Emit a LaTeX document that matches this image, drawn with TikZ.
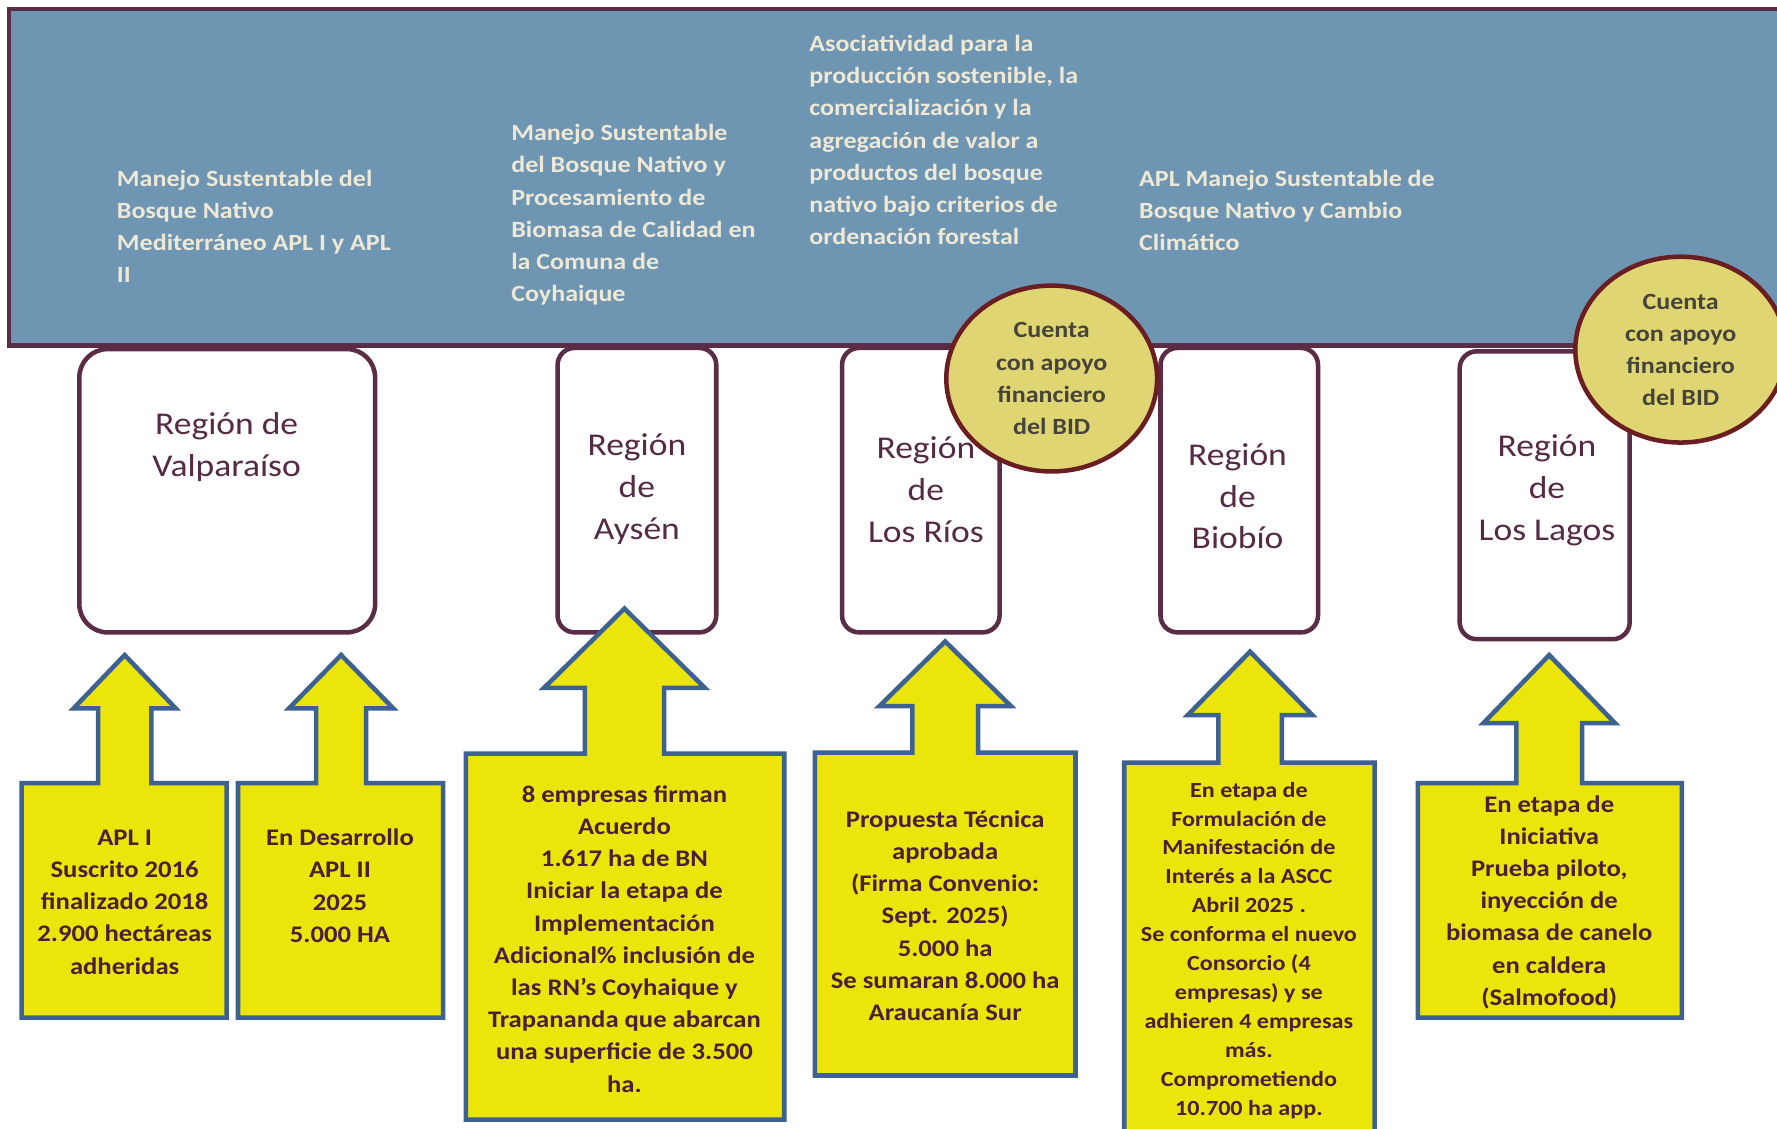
\documentclass[tikz,border=0pt]{standalone}
\usepackage{fontspec}
\setmainfont{Carlito}[FakeStretch=1.12]
\usetikzlibrary{shapes.geometric}
\definecolor{bannerfill}{HTML}{6E96B3}
\definecolor{maroonline}{HTML}{5B2C45}
\definecolor{bannertext}{HTML}{EEE8D5}
\definecolor{regtext}{HTML}{552A44}
\definecolor{bidfill}{HTML}{DFD673}
\definecolor{bidline}{HTML}{6A1E22}
\definecolor{bidtext}{HTML}{46443A}
\definecolor{callfill}{HTML}{EBE50A}
\definecolor{callline}{HTML}{3D6190}
\definecolor{calltext}{HTML}{4A1F3A}
\newcommand\callout[9]{%
  \draw[calloutshape] (#2,#5) -- (#2,#4) -- ({#1-#6},#4) -- ({#1-#6},#8) -- ({#1-#7},#8)
    -- (#1,#9) -- ({#1+#7},#8) -- ({#1+#6},#8) -- ({#1+#6},#4) -- (#3,#4) -- (#3,#5) -- cycle;}
\begin{document}
\begin{tikzpicture}[x=1pt,y=-1pt,
  bannertxt/.style={anchor=west, align=left, text=bannertext, inner sep=0pt,
    font=\fontsize{20.5}{28.3}\selectfont\bfseries},
  regionbox/.style={draw=maroonline, line width=4pt, fill=white, rounded corners=15pt},
  regtxt/.style={align=center, text=regtext, inner sep=0pt, font=\fontsize{28}{36.8}\selectfont},
  bid/.style={ellipse, draw=bidline, fill=bidfill, line width=4pt, minimum width=186pt,
    minimum height=164pt, inner sep=0pt, align=center, text=bidtext,
    font=\fontsize{20.5}{28.3}\selectfont\bfseries},
  calloutshape/.style={draw=callline, fill=callfill, line width=4pt, line join=miter},
  calltxt/.style={align=center, text=calltext, inner sep=0pt, font=\fontsize{21}{28.4}\selectfont\bfseries},
  calltxtsmall/.style={align=center, text=calltext, inner sep=0pt, font=\fontsize{19}{25.5}\selectfont\bfseries}]
\useasboundingbox (0,0) rectangle (1568,996);
\clip (0,0) rectangle (1568,996);
\fill[white] (0,0) rectangle (1568,996);
% banner
\draw[line width=4pt, draw=maroonline, fill=bannerfill] (8,8) rectangle (1600,305);
\node[bannertxt] (t1) at (103,200) {Manejo Sustentable del\\Bosque Nativo\\Mediterráneo APL I y APL\\II};
\node[bannertxt] (t2) at (451,189.5) {Manejo Sustentable\\del Bosque Nativo y\\Procesamiento de\\Biomasa de Calidad en\\la Comuna de\\Coyhaique};
\node[bannertxt] (t3) at (714,123.5) {Asociatividad para la\\producción sostenible, la\\comercialización y la\\agregación de valor a\\productos del bosque\\nativo bajo criterios de\\ordenación forestal};
\node[bannertxt] (t4) at (1005,186) {APL Manejo Sustentable de\\Bosque Nativo y Cambio\\Climático};
% regions
\draw[regionbox, rounded corners=25pt] (70,308) rectangle (331,558);
\draw[regionbox] (492,307) rectangle (632,558);
\draw[regionbox] (743,307) rectangle (882,558);
\draw[regionbox] (1024,307) rectangle (1163,558);
\draw[regionbox] (1288,310) rectangle (1438,564);
\node[regtxt] (r1) at (200,394.5) {Región de\\Valparaíso};
\node[regtxt] (r2) at (562,431.5) {Región\\de\\Aysén};
\node[regtxt] (r3) at (817,432) {Región\\de\\Los Ríos};
\node[regtxt] (r4) at (1092,438) {Región\\de\\Biobío};
\node[regtxt] (r5) at (1365,432.5) {Región\\de\\Los Lagos};
% BID ellipses
\node[bid] (b1) at (928,334) {Cuenta\\con apoyo\\financiero\\del BID};
\node[bid] (b2) at (1483,308.5) {Cuenta\\con apoyo\\financiero\\del BID};
% callouts
\callout{110}{19}{200}{691}{898}{23.5}{45}{625}{578}
\callout{301}{210}{391}{691}{898}{22}{46}{625}{578}
\callout{551}{411}{692}{665}{988}{35}{71}{607}{537}
\callout{834}{719}{949}{664}{949}{29}{58}{623}{566}
\callout{1103}{992}{1213}{673}{1020}{28}{55}{631}{575}
\callout{1367}{1251}{1484}{691}{898}{29}{58}{638}{578}
\node[calltxt] (c1) at (110,796) {APL I\\Suscrito 2016\\finalizado 2018\\2.900 hectáreas\\adheridas};
\node[calltxt] (c2) at (300,781.5) {En Desarrollo\\APL II\\2025\\5.000 HA};
\node[calltxt] (c3) at (551,828.5) {8 empresas firman\\Acuerdo\\1.617 ha de BN\\Iniciar la etapa de\\Implementación\\Adicional\% inclusión de\\las RN’s Coyhaique y\\Trapananda que abarcan\\una superficie de 3.500\\ha.};
\node[calltxt] (c4) at (834,808) {Propuesta Técnica\\aprobada\\(Firma Convenio:\\Sept. 2025)\\5.000 ha\\Se sumaran 8.000 ha\\Araucanía Sur};
\node[calltxtsmall] (c5) at (1102,838.5) {En etapa de\\Formulación de\\Manifestación de\\Interés a la ASCC\\Abril 2025 .\\Se conforma el nuevo\\Consorcio (4\\empresas) y se\\adhieren 4 empresas\\más.\\Comprometiendo\\10.700 ha app.};
\node[calltxt] (c6) at (1367,796) {En etapa de\\Iniciativa\\Prueba piloto,\\inyección de\\biomasa de canelo\\en caldera\\(Salmofood)};
\end{tikzpicture}
\end{document}
